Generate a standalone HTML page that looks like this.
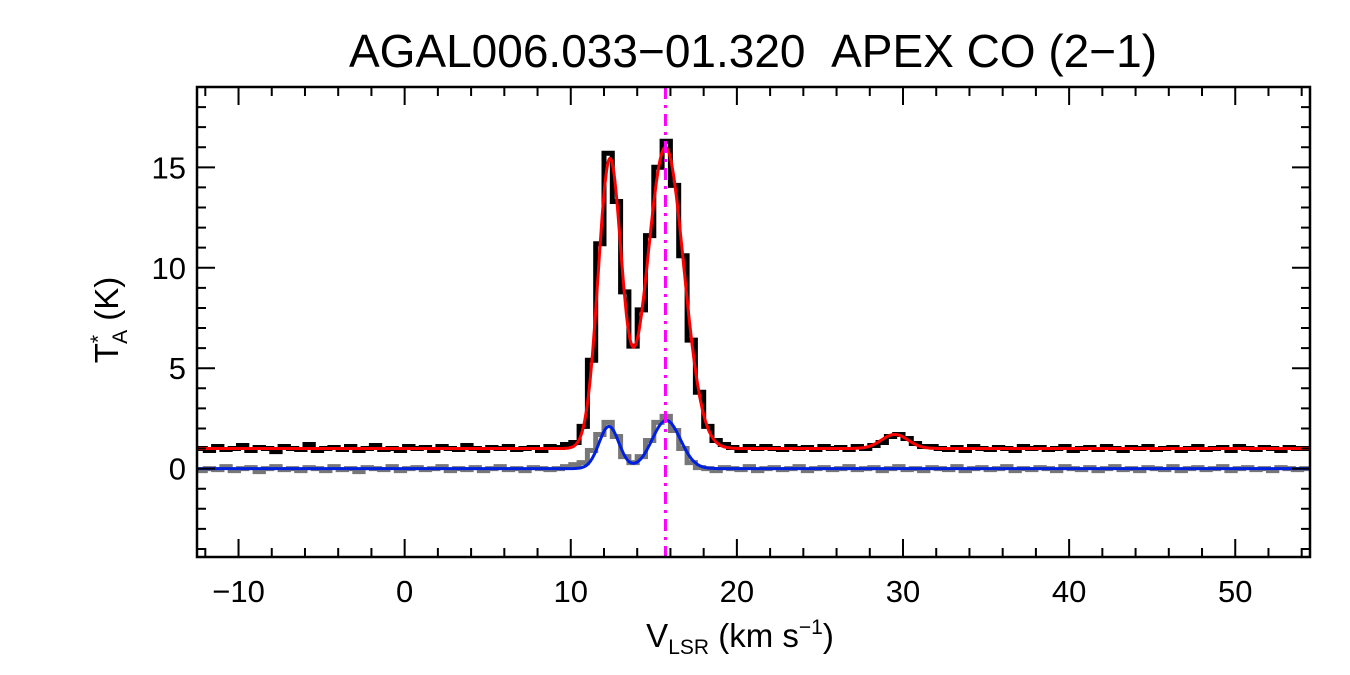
<!DOCTYPE html>
<html><head><meta charset="utf-8"><style>
body{margin:0;background:#fff;}
svg{display:block;font-family:"Liberation Sans",sans-serif;}
</style></head><body>
<svg id="chart" width="1350" height="675" viewBox="0 0 1350 675" xmlns="http://www.w3.org/2000/svg">
<text x="753" y="67" font-size="46" text-anchor="middle">AGAL006.033−01.320&#160;&#160;APEX CO (2−1)</text>
<g id="plot"></g>
<text x="740" y="647" font-size="33" text-anchor="middle">V<tspan font-size="21" dy="7">LSR</tspan><tspan dy="-7"> (km s</tspan><tspan font-size="21" dy="-13">−1</tspan><tspan dy="13">)</tspan></text>
<text transform="translate(118,320) rotate(-90)" font-size="33" text-anchor="middle">T<tspan font-size="21" dy="-13">*</tspan><tspan font-size="21" dx="-9" dy="22">A</tspan><tspan dy="-9"> (K)</tspan></text>
</svg>
<script>
// data
const chanStart = -12.25, chanStep = 0.5;
const observed = [1.0,0.9,1.1,0.95,1.0,1.15,0.9,1.05,1.0,0.85,1.1,1.0,0.95,1.2,0.9,1.0,1.05,0.95,1.1,0.9,1.0,1.15,0.95,1.0,0.9,1.1,1.0,1.05,0.9,1.1,1.0,0.95,1.15,1.0,0.9,1.05,1.0,1.1,0.95,1.0,1.05,0.9,1.1,1.05,1.2,1.3,2.1,5.4,11.2,15.7,13.3,8.8,6.1,7.9,11.6,15.0,16.3,14.1,10.6,6.4,3.8,2.1,1.4,1.2,1.05,0.9,1.1,1.0,1.1,1.0,0.95,1.1,1.0,1.05,0.95,1.1,1.0,1.05,0.95,1.1,1.0,1.15,1.3,1.6,1.7,1.5,1.25,1.1,1.1,1.0,0.95,1.05,0.9,1.1,1.0,0.95,1.05,1.0,0.9,1.1,1.0,1.05,0.95,1.0,1.1,0.9,1.0,1.05,0.95,1.1,1.0,0.9,1.05,1.0,1.1,0.95,1.0,1.05,0.9,1.0,1.1,0.95,1.0,1.05,0.9,1.1,1.0,0.95,1.05,1.0,0.9,1.05,1.0,1.0];
const residual = [-0.1,0.0,-0.05,0.1,-0.1,0.0,0.05,-0.15,0.0,0.1,-0.05,0.0,-0.1,0.05,0.0,-0.1,0.1,-0.05,0.0,-0.15,0.05,0.0,-0.05,0.1,-0.1,0.0,0.05,-0.05,0.0,0.1,-0.1,0.0,-0.05,0.05,-0.1,0.0,0.1,-0.05,0.0,-0.1,0.05,0.0,-0.05,0.0,0.1,0.2,0.3,0.9,1.7,2.3,1.6,0.6,0.3,0.6,1.4,2.3,2.6,1.9,1.0,0.3,0.05,0.0,-0.1,0.05,0.0,-0.05,0.1,-0.1,0.0,0.05,-0.05,0.0,0.1,-0.1,0.0,0.05,-0.05,0.0,0.1,-0.05,0.0,0.05,-0.1,0.0,0.1,-0.05,0.0,-0.1,0.05,0.0,-0.05,0.1,-0.1,0.0,0.05,-0.05,0.0,0.1,-0.1,0.0,-0.05,0.05,0.0,-0.1,0.1,0.0,-0.05,0.05,-0.1,0.0,0.1,-0.05,0.0,-0.1,0.05,0.0,-0.05,0.1,-0.1,0.0,0.05,-0.05,0.0,0.1,-0.1,0.0,0.05,-0.05,0.0,-0.1,0.05,0.0,-0.05,0.0];
const fitBaseline = 1.0;
const fitAmps = [14.3, 15.0, 0.7];
const fitCenters = [12.35, 15.7, 29.5];
const fitSigmas = [0.7, 1.1, 0.8];
const compAmps = [2.1, 2.4];
const compCenters = [12.3, 15.75];
const compSigmas = [0.6, 0.85];
const markerVel = 15.7;
const xTicks = [-10,0,10,20,30,40,50];
const yTicks = [0,5,10,15];

const L=197,R=1310,T=87,B=557, xmin=-12.5,xmax=54.5,ymin=-4.4,ymax=19.0;
const sx=v=>L+(v-xmin)/(xmax-xmin)*(R-L);
const sy=v=>B-(v-ymin)/(ymax-ymin)*(B-T);
const NS="http://www.w3.org/2000/svg";
const g=document.getElementById('plot');
function mk(t,a){const e=document.createElementNS(NS,t);for(const k in a)e.setAttribute(k,a[k]);g.appendChild(e);return e;}
function stepPath(arr){let d='';arr.forEach((v,i)=>{const x0=sx(chanStart+i*chanStep-chanStep/2),x1=sx(chanStart+i*chanStep+chanStep/2);d+=(i?'L':'M')+x0.toFixed(1)+','+sy(v).toFixed(1)+'L'+x1.toFixed(1)+','+sy(v).toFixed(1);});return d;}
function gauss(x,A,C,S,b){let s=b;for(let i=0;i<A.length;i++)s+=A[i]*Math.exp(-Math.pow(x-C[i],2)/(2*S[i]*S[i]));return s;}
function curve(A,C,S,b){let d='';for(let x=xmin;x<=xmax;x+=0.05){d+=(d?'L':'M')+sx(x).toFixed(1)+','+sy(gauss(x,A,C,S,b)).toFixed(1);}return d;}
const cp=mk('clipPath',{id:'clip'});const cr=document.createElementNS(NS,'rect');cr.setAttribute('x',L);cr.setAttribute('y',T);cr.setAttribute('width',R-L);cr.setAttribute('height',B-T);cp.appendChild(cr);

let e=mk('path',{d:stepPath(residual),fill:'none',stroke:'#777','stroke-width':5,'clip-path':'url(#clip)'});


e=mk('path',{d:stepPath(observed),fill:'none',stroke:'#000','stroke-width':5,'clip-path':'url(#clip)'});


e=mk('path',{d:curve(fitAmps,fitCenters,fitSigmas,fitBaseline),fill:'none',stroke:'#f00','stroke-width':3,'clip-path':'url(#clip)'});


e=mk('path',{d:curve(compAmps,compCenters,compSigmas,0),fill:'none',stroke:'#0020e0','stroke-width':3,'clip-path':'url(#clip)'});


e=mk('line',{x1:sx(markerVel),x2:sx(markerVel),y1:T,y2:B,stroke:'#f0f','stroke-width':3,'stroke-dasharray':'12,6,3,6'});


e=mk('rect',{x:L,y:T,width:R-L,height:B-T,fill:'none',stroke:'#000','stroke-width':2.5});


for(let v=-12;v<=54;v+=2){const maj=v%10===0,len=maj?18:9;
 e=mk('path',{d:`M${sx(v)},${B}v${-len}M${sx(v)},${T}v${len}`,stroke:'#000','stroke-width':2});
 
 }
for(let v=-4;v<=19;v+=1){const maj=v%5===0,len=maj?18:9;
 e=mk('path',{d:`M${L},${sy(v)}h${len}M${R},${sy(v)}h${-len}`,stroke:'#000','stroke-width':2});
 
 }
xTicks.forEach(v=>{e=mk('text',{x:sx(v),y:602,'font-size':31,'text-anchor':'middle'});e.textContent=v<0?'−'+(-v):v;
 
 });
yTicks.forEach(v=>{e=mk('text',{x:186,y:sy(v)+11,'font-size':31,'text-anchor':'end'});e.textContent=v;
 
 });
</script>
</body></html>
